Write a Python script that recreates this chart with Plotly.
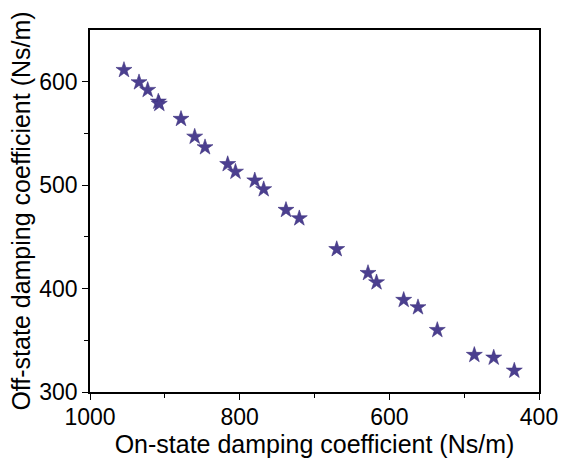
import plotly.graph_objects as go

on_state = [954.6, 934.5, 922.9, 908.7, 907.4, 878.4, 860.1, 846.3, 816.0, 805.6, 779.8,
            767.9, 738.1, 720.3, 670.3, 628.5, 617.1, 580.8, 561.7, 535.9, 486.4, 460.5, 433.0]
off_state = [611.3, 599.4, 592.0, 580.7, 578.5, 564.0, 546.8, 536.6, 520.3, 512.9, 504.5,
             496.0, 476.0, 467.9, 438.1, 415.0, 406.0, 389.0, 381.9, 359.9, 335.8, 333.2, 320.6]

x_ticks = [1000, 800, 600, 400]
y_ticks = [300, 400, 500, 600]

FONT = "Liberation Sans, Arial, sans-serif"

fig = go.Figure(go.Scatter(
    x=on_state, y=off_state, mode="markers",
    marker=dict(symbol="star", size=12, color="#4B3F8F",
                line=dict(color="#3E3380", width=0.6)),
))

axis_common = dict(
    showline=True, linecolor="black", linewidth=1.6, mirror=True,
    showgrid=False, zeroline=False, ticks="outside", ticklen=6, tickwidth=1.3,
    tickcolor="black", tickfont=dict(family=FONT, size=23, color="black"),
    minor=dict(ticks="outside", ticklen=4, tickwidth=1.2, tickcolor="black"),
    automargin=False,
)

fig.update_xaxes(
    range=[1000, 400], tickvals=x_ticks, ticktext=[str(v) for v in x_ticks],
    minor_tickvals=[900, 700, 500], ticklabelstandoff=-2,
    title=dict(text="On-state damping coefficient (Ns/m)", standoff=0,
               font=dict(family=FONT, size=25, color="black")),
    **axis_common,
)
fig.update_yaxes(
    range=[300, 650], tickvals=y_ticks, ticktext=[str(v) for v in y_ticks],
    minor_tickvals=[350, 450, 550],
    title=dict(text="Off-state damping coefficient (Ns/m)", standoff=1,
               font=dict(family=FONT, size=25, color="black")),
    **axis_common,
)

fig.update_layout(
    width=561, height=468,
    margin=dict(l=90, r=22, t=30, b=76),
    paper_bgcolor="white", plot_bgcolor="white",
    showlegend=False,
)

fig.write_html(
    "out.html",
    config={"displayModeBar": False},
    post_script="document.body.style.margin='0';document.body.style.overflow='hidden';",
)
